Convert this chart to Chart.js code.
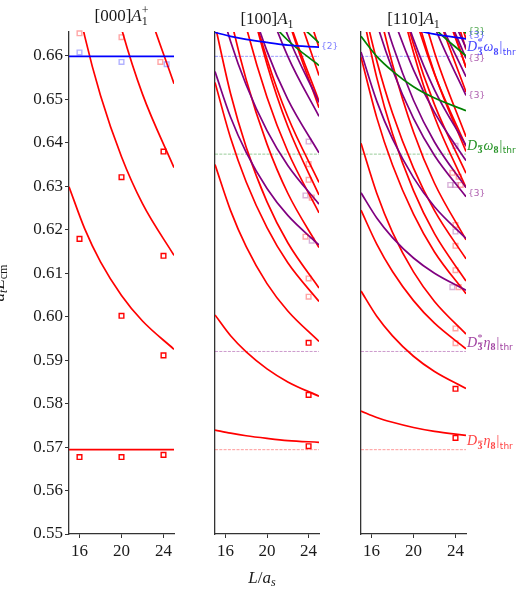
<!DOCTYPE html>
<html>
<head>
<meta charset="utf-8">
<title>A1 finite-volume spectra</title>
<script src="https://cdn.jsdelivr.net/npm/chart.js@4.4.1/dist/chart.umd.min.js"></script>
<style>
  body { margin: 0; background: #fff; }
  #wrap { position: relative; width: 516px; height: 590px; overflow: hidden; }
  canvas { position: absolute; top: 0; }
</style>
</head>
<body>
<div id="wrap">
  <canvas id="c000" width="182" height="590" style="left:0"></canvas>
  <canvas id="c100" width="150" height="590" style="left:195px"></canvas>
  <canvas id="c110" width="175" height="590" style="left:341px"></canvas>
</div>
<script>
// volumes at which each non-interacting level is sampled
const Ls = [15, 16.5, 18, 20, 22, 25];
const xTicks = [16, 20, 24];
const yTicks = [0.55, 0.56, 0.57, 0.58, 0.59, 0.60, 0.61, 0.62, 0.63, 0.64, 0.65, 0.66];

// thresholds: D eta, D* eta, D omega, D* omega
const thrValues = [0.5694, 0.5920, 0.6374, 0.6599];

// [000] A1+ : D eta levels (n^2 = 1..4)
const red000 = [
  [0.6299, 0.6202, 0.6126, 0.6049, 0.5990, 0.5925],
  [0.6818, 0.6645, 0.6509, 0.6368, 0.6260, 0.6141],
  [0.7283, 0.7046, 0.6858, 0.6663, 0.6512, 0.6343],
  [0.7710, 0.7417, 0.7183, 0.6938, 0.6749, 0.6536]
];

// [100] A1
const red100 = [
  [0.5739, 0.5732, 0.5726, 0.5720, 0.5715, 0.5711],
  [0.6004, 0.5956, 0.5919, 0.5880, 0.5850, 0.5817],
  [0.6350, 0.6244, 0.6161, 0.6076, 0.6013, 0.5943],
  [0.6539, 0.6411, 0.6310, 0.6205, 0.6124, 0.6035],
  [0.6672, 0.6513, 0.6390, 0.6264, 0.6170, 0.6066],
  [0.6871, 0.6689, 0.6545, 0.6397, 0.6284, 0.6159],
  [0.7017, 0.6822, 0.6667, 0.6505, 0.6380, 0.6239],
  [0.7182, 0.6951, 0.6769, 0.6581, 0.6438, 0.6280],
  [0.7124, 0.6924, 0.6763, 0.6593, 0.6460, 0.6309],
  [0.7638, 0.7346, 0.7114, 0.6873, 0.6688, 0.6481],
  [0.7545, 0.7288, 0.7081, 0.6862, 0.6691, 0.6496],
  [0.7766, 0.7463, 0.7221, 0.6969, 0.6774, 0.6555],
  [0.7865, 0.7556, 0.7309, 0.7050, 0.6847, 0.6619]
];
const purple100 = [
  [0.6564, 0.6459, 0.6378, 0.6295, 0.6233, 0.6165],
  [0.6760, 0.6633, 0.6533, 0.6428, 0.6348, 0.6259],
  [0.7077, 0.6898, 0.6757, 0.6611, 0.6500, 0.6377],
  [0.7230, 0.7037, 0.6884, 0.6723, 0.6599, 0.6461],
  [0.7375, 0.7149, 0.6971, 0.6787, 0.6647, 0.6493]
];
const green100 = [
  [0.6925, 0.6833, 0.6762, 0.6690, 0.6636, 0.6578],
  [0.7041, 0.6934, 0.6850, 0.6765, 0.6700, 0.6630]
];
const blue100 = [
  [0.6654, 0.6645, 0.6638, 0.6631, 0.6625, 0.6620]
];

// [110] A1
const red110 = [
  [0.5783, 0.5768, 0.5757, 0.5745, 0.5736, 0.5727],
  [0.6059, 0.6001, 0.5956, 0.5909, 0.5874, 0.5835],
  [0.6245, 0.6167, 0.6104, 0.6037, 0.5985, 0.5926],
  [0.6399, 0.6284, 0.6194, 0.6103, 0.6035, 0.5960],
  [0.6597, 0.6458, 0.6349, 0.6236, 0.6149, 0.6053],
  [0.6715, 0.6550, 0.6421, 0.6290, 0.6191, 0.6082],
  [0.6739, 0.6589, 0.6468, 0.6342, 0.6244, 0.6133],
  [0.6923, 0.6731, 0.6581, 0.6425, 0.6307, 0.6177],
  [0.7228, 0.6989, 0.6802, 0.6608, 0.6460, 0.6297],
  [0.7191, 0.6978, 0.6807, 0.6627, 0.6488, 0.6330],
  [0.7391, 0.7135, 0.6932, 0.6722, 0.6560, 0.6380],
  [0.7275, 0.7061, 0.6887, 0.6703, 0.6558, 0.6392],
  [0.7516, 0.7235, 0.7013, 0.6783, 0.6608, 0.6414],
  [0.7611, 0.7341, 0.7124, 0.6896, 0.6719, 0.6517],
  [0.7820, 0.7507, 0.7259, 0.6999, 0.6798, 0.6573],
  [0.7682, 0.7412, 0.7194, 0.6963, 0.6782, 0.6574],
  [0.7966, 0.7625, 0.7355, 0.7073, 0.6856, 0.6615],
  [0.7924, 0.7605, 0.7350, 0.7082, 0.6874, 0.6639]
];
const purple110 = [
  [0.6285, 0.6227, 0.6182, 0.6135, 0.6100, 0.6061],
  [0.6609, 0.6496, 0.6409, 0.6320, 0.6253, 0.6180],
  [0.6813, 0.6676, 0.6568, 0.6456, 0.6371, 0.6276],
  [0.6912, 0.6751, 0.6626, 0.6498, 0.6402, 0.6297],
  [0.6963, 0.6813, 0.6694, 0.6568, 0.6470, 0.6359],
  [0.7125, 0.6937, 0.6790, 0.6638, 0.6522, 0.6394],
  [0.7419, 0.7185, 0.7001, 0.6812, 0.6668, 0.6509],
  [0.7406, 0.7195, 0.7026, 0.6848, 0.6709, 0.6552],
  [0.7587, 0.7335, 0.7136, 0.6930, 0.6771, 0.6594],
  [0.7498, 0.7285, 0.7112, 0.6928, 0.6783, 0.6618]
];
const green110 = [
  [0.6645, 0.6599, 0.6565, 0.6529, 0.6503, 0.6474],
  [0.6982, 0.6881, 0.6802, 0.6723, 0.6664, 0.6600],
  [0.7106, 0.6987, 0.6895, 0.6801, 0.6730, 0.6652]
];
const blue110 = [
  [0.6706, 0.6688, 0.6675, 0.6661, 0.6650, 0.6639]
];

// lattice energies [L, E]
const latRed000 = [[16, 0.5677], [20, 0.5677], [24, 0.5682], [16, 0.6179], [20, 0.6002], [24, 0.5911], [20, 0.6321], [24, 0.6140], [24, 0.6380]];
const latPink000 = [[16, 0.6652], [20, 0.6643], [23.7, 0.6586]];
const latBlue000 = [[16, 0.6608], [20, 0.6586], [24.3, 0.6581]];
const latRed100 = [[24, 0.5940], [24, 0.5820], [24, 0.5702]];
const latPink100 = [[24, 0.6351], [24, 0.6315], [24.3, 0.6274], [23.7, 0.6184], [24, 0.6088], [24, 0.6046]];
const latLilac100 = [[24, 0.6403], [23.7, 0.6279], [24.3, 0.6175]];
const latRed110 = [[24, 0.5834], [24, 0.5721]];
const latPink110 = [[23.7, 0.6331], [24.3, 0.6322], [24.5, 0.6303], [24, 0.6211], [24, 0.6163], [24, 0.6107], [24.3, 0.6068], [24, 0.5973], [24, 0.5939]];
const latLilac110 = [[24, 0.6393], [23.5, 0.6303], [24, 0.6303], [24, 0.6196], [23.7, 0.6068]];

const SERIF = 'Liberation Serif';
const RED = '#ff0000', PURPLE = '#800080', GREEN = '#008000', BLUE = '#0000ff';
const INK = '#1a1a1a';

function curve(vals, color) {
  return {
    data: vals.map((y, i) => ({ x: Ls[i], y })),
    showLine: true, borderColor: color, borderWidth: 1.7,
    pointRadius: 0, cubicInterpolationMode: 'monotone', fill: false
  };
}
function flat(y, color, dashed) {
  return {
    data: [{ x: 15, y }, { x: 25, y }],
    showLine: true, borderColor: color, borderWidth: dashed ? 0.8 : 1.7,
    borderDash: dashed ? [3, 1.3] : [], pointRadius: 0, fill: false
  };
}
function marks(pts, color) {
  return {
    data: pts.map(([x, y]) => ({ x, y })),
    showLine: false, pointStyle: 'rect', pointRadius: 3.3, pointBorderWidth: 1.4,
    pointBorderColor: color, pointBackgroundColor: 'rgba(255,255,255,0)', clip: false
  };
}

// rich text: pieces laid out left to right, "stack" pieces share x with the previous one
const T = (text, font, dy, extra) => Object.assign({ text, font, dy: dy || 0 }, extra);
function drawRich(ctx, x, y, parts, color, align) {
  ctx.save();
  ctx.fillStyle = color;
  ctx.strokeStyle = color;
  ctx.textAlign = 'left';
  ctx.textBaseline = 'alphabetic';
  let cx = 0, baseX = 0;
  const items = [];
  for (const p of parts) {
    ctx.font = p.font;
    const w = ctx.measureText(p.text).width + (p.gap || 0);
    const px = p.stack ? baseX : cx;
    items.push({ p, px, w });
    if (p.stack) cx = Math.max(cx, px + w);
    else { baseX = px; cx = px + w; }
  }
  const x0 = align === 'center' ? x - cx / 2 : x;
  for (const { p, px, w } of items) {
    ctx.font = p.font;
    const yy = y + p.dy;
    ctx.fillText(p.text, x0 + px, yy);
    if (p.bar) {
      ctx.lineWidth = 0.8;
      ctx.beginPath();
      ctx.moveTo(x0 + px + 0.5, yy - p.bar);
      ctx.lineTo(x0 + px + w - 1, yy - p.bar);
      ctx.stroke();
    }
  }
  ctx.restore();
}

const F17 = `17px ${SERIF}`, I17 = `italic 17px ${SERIF}`, F12 = `12px ${SERIF}`, I12 = `italic 12px ${SERIF}`;
const I14 = `italic 14px ${SERIF}`, F14 = `14px ${SERIF}`, F10 = `10px ${SERIF}`, B10 = `bold 10px ${SERIF}`;

function thrLabel(star, greek) {
  const parts = [T('D', I14, 0, { gap: 0.5 }), T('3', B10, 3.5, { bar: 7.5, gap: 1 })];
  if (star) parts.push(T('*', F10, -6, { stack: true }));
  parts.push(T(greek, I14), T('8', B10, 3.5, { gap: 1 }), T('|', F14, 0, { gap: 0.5 }), T('thr', '9px DejaVu Sans', 3.5));
  return parts;
}

function scales(showY, yWidth) {
  return {
    x: {
      type: 'linear', min: 15, max: 25,
      afterBuildTicks: s => { s.ticks = xTicks.map(v => ({ value: v })); },
      afterFit: s => { s.height = 56; },
      ticks: { font: { family: SERIF, size: 17 }, color: INK, padding: 3, maxRotation: 0, autoSkip: false },
      grid: { drawOnChartArea: false, drawTicks: true, tickLength: 4, tickColor: '#333', tickWidth: 1 },
      border: { display: true, color: '#333', width: 1.3 }
    },
    y: {
      type: 'linear', min: 0.55, max: 0.6655,
      afterBuildTicks: s => { s.ticks = yTicks.map(v => ({ value: v })); },
      afterFit: s => { s.width = yWidth; },
      ticks: { display: showY, font: { family: SERIF, size: 17 }, color: INK, padding: 2, callback: v => v.toFixed(2) },
      grid: { display: showY, drawOnChartArea: false, drawTicks: true, tickLength: 4, tickColor: '#333', tickWidth: 1 },
      border: { display: true, color: '#333', width: 1.3 }
    }
  };
}

function panel(id, datasets, padding, yWidth, showY, decorate) {
  new Chart(document.getElementById(id), {
    type: 'scatter',
    data: { datasets },
    options: {
      responsive: false, animation: false, events: [],
      layout: { padding },
      plugins: { legend: { display: false }, tooltip: { enabled: false } },
      scales: scales(showY, yWidth)
    },
    plugins: [{ id: 'decor', afterDraw: decorate }]
  });
}

function tag(chart, vals, text, color, dy) {
  const { ctx, chartArea, scales: { y } } = chart;
  ctx.save();
  ctx.font = '9px DejaVu Sans';
  ctx.fillStyle = color;
  ctx.textBaseline = 'middle';
  ctx.fillText(text, chartArea.right + 2, y.getPixelForValue(vals[vals.length - 1]) + dy);
  ctx.restore();
}

function thresholdSets() {
  return [
    flat(thrValues[3], 'rgba(0,0,255,0.5)', true),
    flat(thrValues[2], 'rgba(0,128,0,0.5)', true),
    flat(thrValues[1], 'rgba(128,0,128,0.5)', true),
    flat(thrValues[0], 'rgba(255,0,0,0.5)', true)
  ];
}

// [000] A1+
panel('c000', [
  marks(latRed000, RED),
  marks(latPink000, 'rgba(255,0,0,0.35)'),
  marks(latBlue000, 'rgba(0,0,255,0.3)'),
  flat(thrValues[3], BLUE, false),
  ...red000.map(v => curve(v, RED)),
  flat(thrValues[0], RED, false)
], { left: 0, right: 8, top: 32, bottom: 0 }, 69, true, chart => {
  const { ctx, chartArea: a } = chart;
  drawRich(ctx, (a.left + a.right) / 2, 21,
    [T('[000]', F17), T('A', I17), T('1', F12, 4), T('+', F12, -7, { stack: true })], INK, 'center');
  ctx.save();
  ctx.translate(4, 283);
  ctx.rotate(-Math.PI / 2);
  drawRich(ctx, 0, 0, [T('a', I17), T('t', I12, 3), T('E', I17), T('cm', F12, 3)], INK, 'center');
  ctx.restore();
});

// [100] A1
panel('c100', [
  marks(latRed100, RED),
  marks(latPink100, 'rgba(255,0,0,0.35)'),
  marks(latLilac100, 'rgba(128,0,128,0.3)'),
  ...blue100.map(v => curve(v, BLUE)),
  ...green100.map(v => curve(v, GREEN)),
  ...purple100.map(v => curve(v, PURPLE)),
  ...red100.map(v => curve(v, RED)),
  ...thresholdSets()
], { left: 0, right: 26, top: 32, bottom: 0 }, 20, false, chart => {
  const { ctx, chartArea: a } = chart;
  drawRich(ctx, (a.left + a.right) / 2, 23.5, [T('[100]', F17), T('A', I17), T('1', F12, 4)], INK, 'center');
  drawRich(ctx, 262 - 195, 583, [T('L', I17), T('/', F17), T('a', I17), T('s', I12, 3)], INK, 'center');
  tag(chart, blue100[0], '{2}', 'rgba(0,0,255,0.55)', -0.5);
});

// [110] A1
panel('c110', [
  marks(latRed110, RED),
  marks(latPink110, 'rgba(255,0,0,0.35)'),
  marks(latLilac110, 'rgba(128,0,128,0.3)'),
  ...blue110.map(v => curve(v, BLUE)),
  ...green110.map(v => curve(v, GREEN)),
  ...purple110.map(v => curve(v, PURPLE)),
  ...red110.map(v => curve(v, RED)),
  ...thresholdSets()
], { left: 0, right: 50, top: 32, bottom: 0 }, 20, false, chart => {
  const { ctx, chartArea: a, scales: { y } } = chart;
  drawRich(ctx, (a.left + a.right) / 2, 23.5, [T('[110]', F17), T('A', I17), T('1', F12, 4)], INK, 'center');
  const lx = a.right + 1;
  drawRich(ctx, lx, y.getPixelForValue(thrValues[3]) - 5, thrLabel(true, 'ω'), 'rgba(0,0,255,0.75)');
  drawRich(ctx, lx, y.getPixelForValue(thrValues[2]) - 4.5, thrLabel(false, 'ω'), 'rgba(0,128,0,0.85)');
  drawRich(ctx, lx, y.getPixelForValue(thrValues[1]) - 4.5, thrLabel(true, 'η'), 'rgba(128,0,128,0.75)');
  drawRich(ctx, lx, y.getPixelForValue(thrValues[0]) - 4.5, thrLabel(false, 'η'), 'rgba(255,0,0,0.75)');
  tag(chart, green110[2], '{3}', 'rgba(0,128,0,0.7)', -2);
  tag(chart, blue110[0], '{3}', 'rgba(0,0,255,0.6)', -3);
  tag(chart, purple110[8], '{3}', 'rgba(128,0,128,0.65)', 0);
  tag(chart, purple110[6], '{3}', 'rgba(128,0,128,0.65)', 0);
  tag(chart, purple110[2], '{3}', 'rgba(128,0,128,0.65)', -3);
});
</script>
</body>
</html>
